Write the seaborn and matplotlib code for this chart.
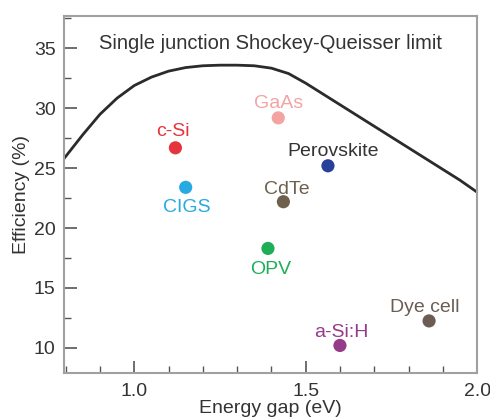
import numpy as np
import pandas as pd
import matplotlib
matplotlib.use("Agg")
import matplotlib.pyplot as plt
import seaborn as sns
from matplotlib.ticker import MultipleLocator

# Shockley-Queisser limit curve
sq_gap = [0.795, 0.85, 0.90, 0.95, 1.00, 1.05, 1.10, 1.15, 1.20, 1.25, 1.30, 1.35,
          1.40, 1.45, 1.50, 1.55, 1.60, 1.65, 1.70, 1.75, 1.80, 1.85, 1.90, 1.95, 2.00]
sq_eff = [25.8, 27.8, 29.5, 30.85, 31.9, 32.6, 33.1, 33.4, 33.55, 33.6, 33.6, 33.55,
          33.35, 32.9, 32.1, 31.2, 30.3, 29.4, 28.5, 27.6, 26.7, 25.8, 24.9, 24.0, 23.0]

# Record cell efficiencies
cells = ["c-Si", "CIGS", "GaAs", "Perovskite", "CdTe", "OPV", "a-Si:H", "Dye cell"]
cell_gap = [1.12, 1.15, 1.42, 1.565, 1.435, 1.39, 1.60, 1.86]
cell_eff = [26.7, 23.4, 29.2, 25.2, 22.2, 18.3, 10.2, 12.25]
dot_colors = ["#e6343c", "#27a9e1", "#f4a3a3", "#27409a", "#6f604c", "#1fae58", "#963b8a", "#6b5d54"]
text_colors = ["#e6343c", "#27a9e1", "#f4a3a3", "#333333", "#6f604c", "#1fae58", "#963b8a", "#6b5d54"]
# label offset from the dot, in points
label_dx = [-2, 0.5, 0, 3.6, 2.2, 2.2, 0.7, -2.9]
label_dy = [11.5, -14.4, 10.1, 10.1, 8.6, -15.1, 9.4, 9.4]

sns.set_style("ticks")
plt.rcParams['font.family'] = ['Liberation Sans', 'DejaVu Sans']

fig = plt.figure(figsize=(4.9, 4.17), dpi=100)
ax = fig.add_axes([0.1306, 0.1055, 0.843, 0.856])

curve = pd.DataFrame({"gap": sq_gap, "eff": sq_eff})
sns.lineplot(data=curve, x="gap", y="eff", color="#2b2b2b", linewidth=2, ax=ax)

pts = pd.DataFrame({"gap": cell_gap, "eff": cell_eff, "cell": cells})
sns.scatterplot(data=pts, x="gap", y="eff", hue="cell", palette=dict(zip(cells, dot_colors)),
                s=90, edgecolor="none", legend=False, ax=ax, zorder=3)

for name, x, y, c, dx, dy in zip(cells, cell_gap, cell_eff, text_colors, label_dx, label_dy):
    ax.annotate(name, (x, y), xytext=(dx, dy), textcoords="offset points",
                ha="center", va="center", color=c, fontsize=14)

ax.text(0.5, 0.924, "Single junction Shockey-Queisser limit", transform=ax.transAxes,
        ha="center", va="center", fontsize=14.5, color="#333333")

ax.set_xlim(0.795, 2.0)
ax.set_ylim(7.9, 37.7)
ax.xaxis.set_major_locator(MultipleLocator(0.5))
ax.xaxis.set_minor_locator(MultipleLocator(0.1))
ax.yaxis.set_major_locator(MultipleLocator(5))
ax.yaxis.set_minor_locator(MultipleLocator(2.5))
ax.xaxis.set_major_formatter(matplotlib.ticker.FormatStrFormatter("%.1f"))

ax.tick_params(which="both", direction="in", color="#555555", labelsize=14, labelcolor="#333333")
ax.tick_params(which="major", length=9, width=1.2, pad=6)
ax.tick_params(axis="x", which="major", pad=7)
ax.tick_params(which="minor", length=5, width=1)

for sp in ax.spines.values():
    sp.set_color("#a0a0a0")
    sp.set_linewidth(1.5)

ax.set_xlabel("Energy gap (eV)", fontsize=14, color="#333333", labelpad=0)
ax.set_ylabel("Efficiency (%)", fontsize=14, color="#333333", labelpad=3)

fig.savefig("out.png", dpi=100)
